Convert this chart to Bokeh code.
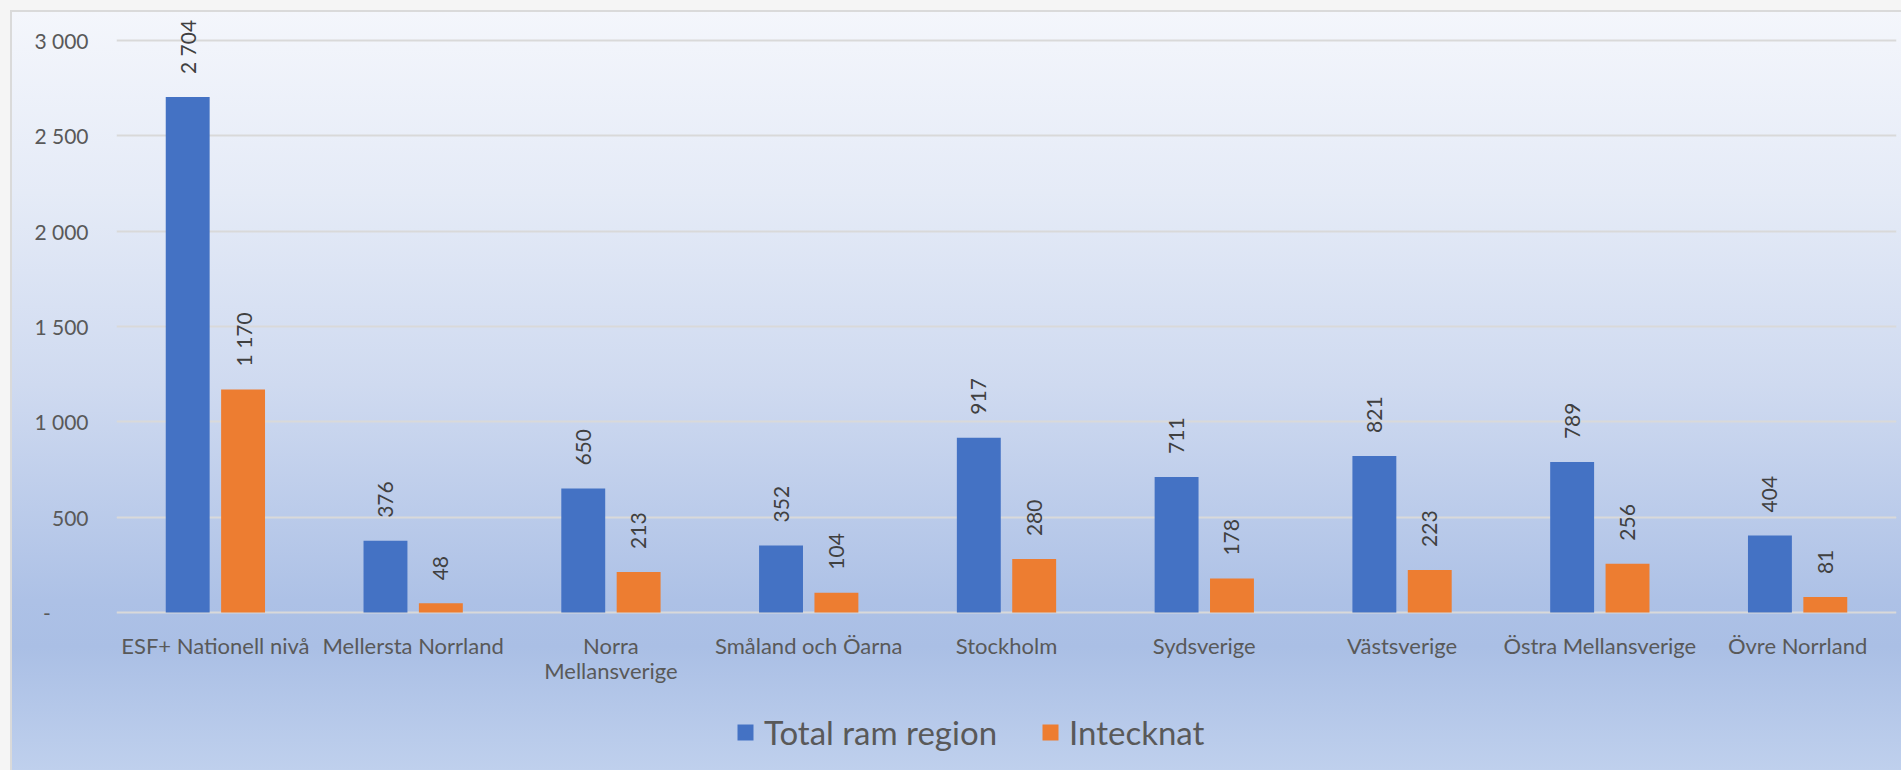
from math import pi
from bokeh.plotting import figure
from bokeh.models import (ColumnDataSource, FactorRange, Range1d, FixedTicker, Legend,
                          LegendItem, InlineStyleSheet)
from bokeh.transform import dodge
from bokeh.core.properties import value
from bokeh.embed import file_html
from bokeh.resources import INLINE

# ---- data ----
categories = ["ESF+ Nationell nivå", "Mellersta Norrland", "Norra\nMellansverige",
              "Småland och Öarna", "Stockholm", "Sydsverige", "Västsverige",
              "Östra Mellansverige", "Övre Norrland"]
total_ram_region = [2704, 376, 650, 352, 917, 711, 821, 789, 404]
intecknat = [1170, 48, 213, 104, 280, 178, 223, 256, 81]
y_ticks = [0, 500, 1000, 1500, 2000, 2500, 3000]
y_tick_labels = ["-" + "\u00a0" * 7, "500", "1 000", "1 500", "2 000", "2 500", "3 000"]
series_names = ["Total ram region", "Intecknat"]

FONT = "Lato"
BLUE = "#4472C4"
ORANGE = "#ED7D31"
TXT = "#595959"


def fmt(v):
    return f"{v:,}".replace(",", " ")


src = ColumnDataSource(dict(
    cat=categories,
    zero=[0] * len(categories),
    total=total_ram_region,
    inteck=intecknat,
    total_lbl=[fmt(v) for v in total_ram_region],
    inteck_lbl=[fmt(v) for v in intecknat],
))

# frame spans from page y=12 down to the bottom (770); value 0 sits at y=612, 3000 at y=40
px_per_unit = (612 - 40) / 3000
y_top = 3000 + (40 - 12) / px_per_unit
y_bot = -(770 - 612) / px_per_unit

p = figure(width=1901, height=770, title=None, toolbar_location=None, output_backend="svg",
           x_range=FactorRange(*categories, range_padding=0),
           y_range=Range1d(y_bot, y_top),
           min_border_left=116, min_border_right=5, min_border_top=12, min_border_bottom=0)

css = (":host { background: linear-gradient(to bottom, #f5f7fc 0%, #e5ebf7 25%, #cfdaf0 50%, "
       "#adc1e6 78%, #aabfe5 84%, #bfd0ed 100%); "
       "box-shadow: inset 10px 10px 0 0 #f5f5f5, inset 12px 12px 0 0 #dadada; }")
p.stylesheets = [InlineStyleSheet(css=css)]
p.border_fill_alpha = 0
p.background_fill_alpha = 0
p.outline_line_color = None

off = 0.14
w = 0.222
r1 = p.vbar(x=dodge("cat", -off, range=p.x_range), top="total", width=w, bottom=0,
            source=src, fill_color=BLUE, line_color=None)
r2 = p.vbar(x=dodge("cat", off, range=p.x_range), top="inteck", width=w, bottom=0,
            source=src, fill_color=ORANGE, line_color=None)

for col, lbl, dx in (("total", "total_lbl", -off), ("inteck", "inteck_lbl", off)):
    p.text(x=dodge("cat", dx, range=p.x_range), y=col, text=lbl, source=src,
           angle=pi / 2, text_align="left", text_baseline="middle", y_offset=-23,
           text_font=value(FONT), text_font_size="21px", text_color="#404040")

# category labels under the zero line
p.text(x="cat", y="zero", text="cat", source=src, text_align="center",
       text_baseline="top", y_offset=19, text_line_height=0.93,
       text_font=value(FONT), text_font_size="22px", text_color=TXT)

# grid
p.xgrid.grid_line_color = None
p.ygrid.grid_line_color = "#d9d9d9"
p.ygrid.grid_line_width = 2
p.ygrid.ticker = FixedTicker(ticks=y_ticks)

# y axis
ya = p.yaxis[0]
ya.ticker = FixedTicker(ticks=y_ticks)
ya.major_label_overrides = {t: l for t, l in zip(y_ticks, y_tick_labels)}
ya.axis_line_color = None
ya.major_tick_line_color = None
ya.minor_tick_line_color = None
ya.major_label_standoff = 22
ya.major_label_text_font = FONT
ya.major_label_text_font_size = "21px"
ya.major_label_text_color = TXT

p.xaxis.visible = False

legend = Legend(items=[LegendItem(label=series_names[0], renderers=[r1]),
                       LegendItem(label=series_names[1], renderers=[r2])],
                orientation="horizontal", location=(619, 18),
                glyph_width=20, glyph_height=20, label_standoff=9, spacing=43,
                padding=0, margin=0, border_line_color=None, background_fill_alpha=0,
                label_text_font=FONT, label_text_font_size="33px", label_text_color=TXT)
p.add_layout(legend, "center")

html = file_html(p, INLINE)
html = html.replace("<body>", '<body style="background:#f5f5f5">', 1)
open("out.html", "w").write(html)
